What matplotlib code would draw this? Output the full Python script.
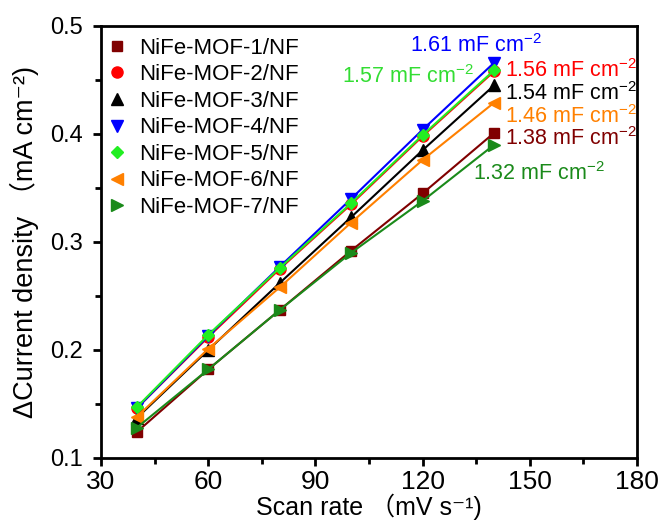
import matplotlib
matplotlib.use("Agg")
import matplotlib.pyplot as plt
from matplotlib.ticker import MultipleLocator

scan_rate = [40, 60, 80, 100, 120, 140]
labels = ["NiFe-MOF-1/NF", "NiFe-MOF-2/NF", "NiFe-MOF-3/NF", "NiFe-MOF-4/NF",
          "NiFe-MOF-5/NF", "NiFe-MOF-6/NF", "NiFe-MOF-7/NF"]
mof1 = [0.124, 0.182, 0.237, 0.292, 0.345, 0.401]
mof2 = [0.146, 0.212, 0.275, 0.335, 0.398, 0.458]
mof3 = [0.137, 0.200, 0.262, 0.323, 0.385, 0.445]
mof4 = [0.146, 0.213, 0.277, 0.340, 0.404, 0.466]
mof5 = [0.147, 0.214, 0.276, 0.336, 0.399, 0.459]
mof6 = [0.138, 0.201, 0.258, 0.318, 0.376, 0.429]
mof7 = [0.128, 0.182, 0.237, 0.290, 0.338, 0.390]
cdl_labels = ["1.38", "1.56", "1.54", "1.61", "1.57", "1.46", "1.32"]

series = [mof1, mof2, mof3, mof4, mof5, mof6, mof7]
colors = ["#800000", "#ff0000", "#000000", "#0000ff", "#22ee22", "#ff8000", "#1a8a1a"]
markers = ["s", "o", "^", "v", "D", "<", ">"]
msizes = [7, 8, 8, 8, 6.5, 8, 8]

plt.rcParams['font.family'] = ['Liberation Sans', 'DejaVu Sans', 'Noto Sans CJK SC']
plt.rcParams['mathtext.fontset'] = 'custom'
plt.rcParams['mathtext.rm'] = 'Liberation Sans'
plt.rcParams['mathtext.it'] = 'Liberation Sans:italic'
plt.rcParams['mathtext.bf'] = 'Liberation Sans:bold'

fig = plt.figure(figsize=(6.62, 5.26), dpi=100)
ax = fig.add_axes([0.1526, 0.1293, 0.8097, 0.8213])

for ys, c, m, ms, lab in zip(series, colors, markers, msizes, labels):
    ax.plot(scan_rate, ys, color=c, marker=m, markersize=ms, lw=1.5, label=lab)

ax.set_xlim(30, 180)
ax.set_ylim(0.1, 0.5)
ax.xaxis.set_major_locator(MultipleLocator(30))
ax.xaxis.set_minor_locator(MultipleLocator(15))
ax.yaxis.set_major_locator(MultipleLocator(0.1))
ax.yaxis.set_minor_locator(MultipleLocator(0.05))
ax.tick_params(which='major', direction='out', length=6, width=2)
ax.tick_params(which='minor', direction='out', length=4, width=2)
ax.tick_params(axis='x', which='major', labelsize=19, pad=3)
ax.tick_params(axis='y', which='major', labelsize=17, pad=7)
for s in ax.spines.values():
    s.set_linewidth(2)

ax.set_xlabel("Scan rate （mV s\u207b\u00b9)", fontsize=18)
ax.set_ylabel("ΔCurrent density （mA cm\u207b\u00b2)", fontsize=19.5)
ax.xaxis.set_label_coords(0.5, -0.082)
ax.yaxis.set_label_coords(-0.116, 0.5)

leg = ax.legend(loc='upper left', frameon=False, fontsize=16, handlelength=1.0,
                handletextpad=0.5, labelspacing=0.25, borderaxespad=0.3,
                bbox_to_anchor=(-0.02, 1.009))
for h in leg.legend_handles:
    h.set_linestyle('None')

def cdl(v):
    return v + " mF cm$^{-2}$"

txt_pos = {
    3: (116.5, 0.4759),
    4: (97.4, 0.4472),
    1: (143.1, 0.4528),
    2: (143.1, 0.4315),
    5: (143.1, 0.4102),
    0: (143.1, 0.3898),
    6: (134.1, 0.3574),
}
for i, (x, y) in txt_pos.items():
    col = colors[i]
    if i == 4:
        col = "#33dd33"
    ax.text(x, y, cdl(cdl_labels[i]), color=col, fontsize=15.5, ha='left', va='baseline')

fig.savefig("out.png", dpi=100)
